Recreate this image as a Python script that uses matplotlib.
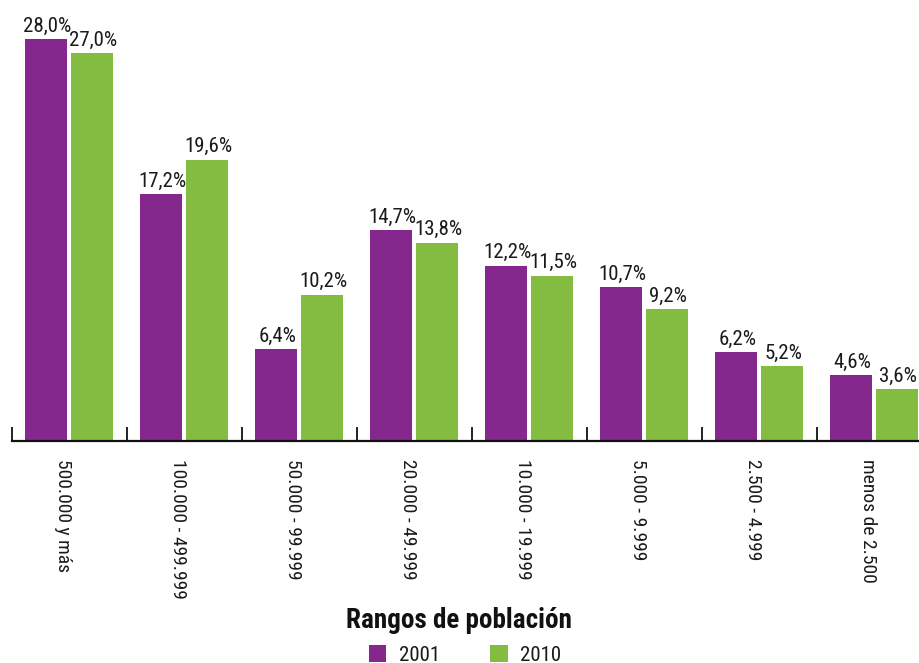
import matplotlib
matplotlib.use("Agg")
import matplotlib.pyplot as plt
from matplotlib.patches import Patch

plt.rcParams['font.family'] = ['Roboto Condensed', 'DejaVu Sans']

categories = ["500.000 y más", "100.000 - 499.999", "50.000 - 99.999", "20.000 - 49.999",
              "10.000 - 19.999", "5.000 - 9.999", "2.500 - 4.999", "menos de 2.500"]
values_2001 = [28.0, 17.2, 6.4, 14.7, 12.2, 10.7, 6.2, 4.6]
values_2010 = [27.0, 19.6, 10.2, 13.8, 11.5, 9.2, 5.2, 3.6]
series_names = ["2001", "2010"]

purple = "#84288e"
green = "#84bc42"
text_color = "#1a1a1a"

W, H = 920, 663
fig = plt.figure(figsize=(W / 100, H / 100), dpi=100)
ax = fig.add_axes([12 / W, 1 - 441 / H, 920 / W, 441 / H])

n = len(categories)
bw = 42 / 115
x1 = [i + 34 / 115 for i in range(n)]
x2 = [i + 80 / 115 for i in range(n)]

ax.bar(x1, values_2001, width=bw, color=purple)
ax.bar(x2, values_2010, width=bw, color=green)

def fmt(v):
    return f"{v:.1f}%".replace(".", ",")

for xs, vals in ((x1, values_2001), (x2, values_2010)):
    for x, v in zip(xs, vals):
        ax.annotate(fmt(v), (x, v), xytext=(1, 2.5), textcoords="offset points",
                    ha="center", va="bottom", fontsize=15, color=text_color)

ax.set_xlim(0, n)
ax.set_ylim(0, 441 / 14.36)

for s in ("top", "right", "left"):
    ax.spines[s].set_visible(False)
ax.spines["bottom"].set_linewidth(1.6)
ax.spines["bottom"].set_color("#111111")
ax.set_yticks([])

ax.set_xticks(range(n + 1))
ax.set_xticklabels([])
ax.tick_params(axis="x", which="major", direction="in", length=10, width=1.3, color="#111111")
ax.set_xticks([i + 0.5 - 6 / 115 for i in range(n)], minor=True)
ax.set_xticklabels(categories, minor=True, rotation=-90, fontsize=14, color=text_color,
                   va="top", ha="center")
ax.tick_params(axis="x", which="minor", length=0, pad=13)

fig.text(459 / W, 1 - 620 / H, "Rangos de población", ha="center", va="center",
         fontsize=19.5, fontweight="bold", color="#111111")

handles = [Patch(facecolor=purple, edgecolor="none"), Patch(facecolor=green, edgecolor="none")]
fig.legend(handles, series_names, loc="center", bbox_to_anchor=(465 / W, 1 - 655 / H),
           ncol=2, frameon=False, fontsize=15, handlelength=0.85, handleheight=0.85,
           handletextpad=0.6, columnspacing=2.4, labelcolor=text_color, borderpad=0)

fig.savefig("out.png", dpi=100)
